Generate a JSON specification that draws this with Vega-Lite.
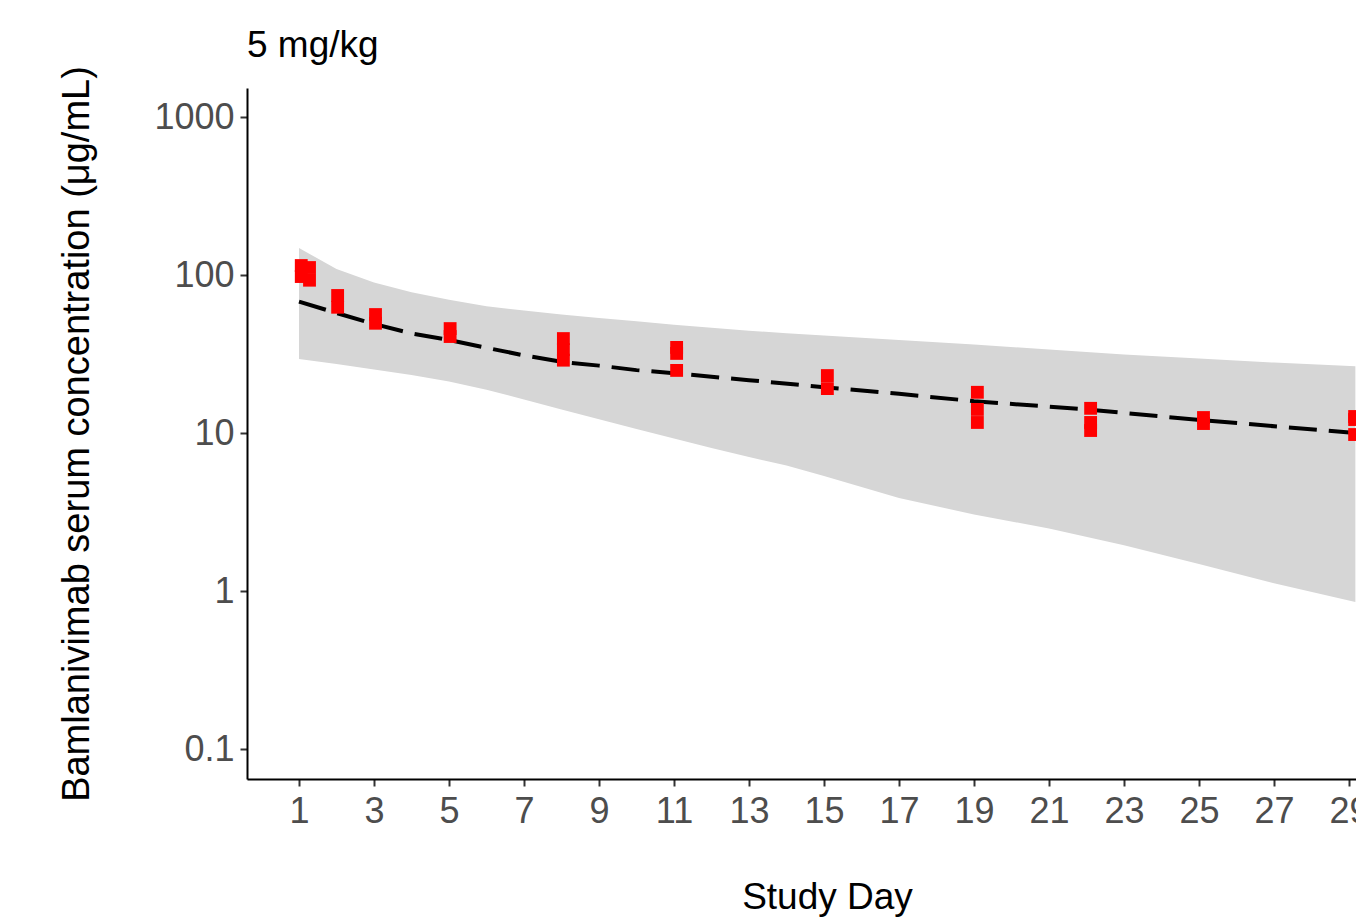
{
  "$schema": "https://vega.github.io/schema/vega-lite/v6.json",
  "width": 1109,
  "height": 691,
  "autosize": {"type": "none"},
  "padding": {"left": 247, "top": 88, "right": 0, "bottom": 140},
  "background": "white",
  "config": {"view": {"stroke": null}, "font": "Liberation Sans"},
  "title": {"text": "5 mg/kg", "anchor": "start", "frame": "group", "fontSize": 37, "fontWeight": "normal", "color": "black", "font": "Liberation Sans", "offset": 1},
  "datasets": {
    "band": [
      {"day": 1, "upper": 148.2, "lower": 29.4},
      {"day": 2, "upper": 109, "lower": 27.3},
      {"day": 3, "upper": 89.6, "lower": 25.2},
      {"day": 4, "upper": 77.8, "lower": 23.3},
      {"day": 5, "upper": 69.7, "lower": 21.2},
      {"day": 6, "upper": 63.5, "lower": 18.8},
      {"day": 7, "upper": 59.6, "lower": 16.3},
      {"day": 8, "upper": 56.3, "lower": 14.1},
      {"day": 9, "upper": 53.5, "lower": 12.2},
      {"day": 10, "upper": 51.0, "lower": 10.6},
      {"day": 11, "upper": 48.5, "lower": 9.23},
      {"day": 12, "upper": 46.3, "lower": 8.04},
      {"day": 13, "upper": 44.4, "lower": 7.05},
      {"day": 14, "upper": 42.8, "lower": 6.23},
      {"day": 15, "upper": 41.4, "lower": 5.35},
      {"day": 17, "upper": 38.8, "lower": 3.88},
      {"day": 19, "upper": 36.3, "lower": 3.05},
      {"day": 21, "upper": 33.8, "lower": 2.49},
      {"day": 23, "upper": 31.4, "lower": 1.95},
      {"day": 25, "upper": 29.6, "lower": 1.48},
      {"day": 27, "upper": 27.9, "lower": 1.12},
      {"day": 29.17, "upper": 26.5, "lower": 0.852}
    ],
    "median": [
      {"day": 1, "conc": 67.8},
      {"day": 2, "conc": 57.5},
      {"day": 3, "conc": 49.0},
      {"day": 4, "conc": 42.7},
      {"day": 5, "conc": 38.8},
      {"day": 6, "conc": 34.6},
      {"day": 7, "conc": 31.0},
      {"day": 8, "conc": 28.2},
      {"day": 9, "conc": 26.7},
      {"day": 10, "conc": 25.0},
      {"day": 11, "conc": 23.9},
      {"day": 13, "conc": 21.6},
      {"day": 15, "conc": 19.5},
      {"day": 17, "conc": 17.7},
      {"day": 19, "conc": 15.9},
      {"day": 22, "conc": 14.1},
      {"day": 25, "conc": 12.1},
      {"day": 29.17, "conc": 10.0}
    ],
    "obs": [
      {"day": 1.06, "conc": 114.8}, {"day": 1.06, "conc": 97.8},
      {"day": 1.28, "conc": 111.5}, {"day": 1.28, "conc": 92.7},
      {"day": 2.03, "conc": 74.2}, {"day": 2.03, "conc": 62.5},
      {"day": 3.04, "conc": 56.2}, {"day": 3.04, "conc": 49.5},
      {"day": 5.03, "conc": 45.8}, {"day": 5.03, "conc": 40.8},
      {"day": 8.05, "conc": 39.6}, {"day": 8.05, "conc": 33.7}, {"day": 8.05, "conc": 28.9},
      {"day": 11.07, "conc": 34.8}, {"day": 11.07, "conc": 31.9}, {"day": 11.07, "conc": 24.9},
      {"day": 15.09, "conc": 23.1}, {"day": 15.09, "conc": 19.1},
      {"day": 19.09, "conc": 18.1}, {"day": 19.09, "conc": 14.1}, {"day": 19.09, "conc": 11.66},
      {"day": 22.11, "conc": 14.33}, {"day": 22.11, "conc": 11.66}, {"day": 22.11, "conc": 10.37},
      {"day": 25.12, "conc": 12.53}, {"day": 25.12, "conc": 11.48},
      {"day": 29.15, "conc": 12.72}, {"day": 29.15, "conc": 12.17}, {"day": 29.15, "conc": 9.78}
    ]
  },
  "encoding": {
    "x": {
      "field": "day", "type": "quantitative", "title": "Study Day",
      "scale": {"domain": [-0.387, 29.187], "nice": false, "zero": false},
      "axis": {
        "values": [1, 3, 5, 7, 9, 11, 13, 15, 17, 19, 21, 23, 25, 27, 29],
        "format": "d", "grid": false,
        "domainColor": "black", "domainWidth": 2,
        "tickColor": "#333333", "tickWidth": 2, "tickSize": 7,
        "labelColor": "#4D4D4D", "labelFontSize": 36, "labelPadding": 8, "labelFont": "Liberation Sans",
        "labelOverlap": false, "labelBound": false, "labelFlush": false,
        "titleFontSize": 37, "titleFontWeight": "normal", "titleColor": "black", "titleFont": "Liberation Sans",
        "titleX": 580, "titleY": 129, "titleBaseline": "alphabetic"
      }
    }
  },
  "layer": [
    {
      "data": {"name": "band"},
      "mark": {"type": "area", "color": "#D6D6D6", "clip": true},
      "encoding": {
        "y": {
          "field": "upper", "type": "quantitative",
          "title": "Bamlanivimab serum concentration (μg/mL)",
          "scale": {"type": "log", "domain": [0.0646, 1526], "nice": false},
          "axis": {
            "values": [0.1, 1, 10, 100, 1000], "format": "~g", "grid": false,
            "domainColor": "black", "domainWidth": 2,
            "tickColor": "#333333", "tickWidth": 2, "tickSize": 7,
            "labelColor": "#4D4D4D", "labelFontSize": 36, "labelPadding": 6, "labelFont": "Liberation Sans",
            "labelOverlap": false, "labelBound": false, "labelFlush": false,
            "titleFontSize": 38, "titleFontWeight": "normal", "titleColor": "black", "titleFont": "Liberation Sans",
            "titleX": -151
          }
        },
        "y2": {"field": "lower"}
      }
    },
    {
      "data": {"name": "median"},
      "mark": {"type": "line", "color": "black", "strokeWidth": 4, "strokeDash": [28, 12], "clip": true},
      "encoding": {
        "y": {"field": "conc", "type": "quantitative", "title": "Bamlanivimab serum concentration (μg/mL)"}
      }
    },
    {
      "data": {"name": "obs"},
      "mark": {"type": "point", "shape": "square", "filled": true, "color": "#FF0000", "opacity": 1, "size": 165, "clip": true},
      "encoding": {
        "y": {"field": "conc", "type": "quantitative", "title": "Bamlanivimab serum concentration (μg/mL)"}
      }
    }
  ]
}
